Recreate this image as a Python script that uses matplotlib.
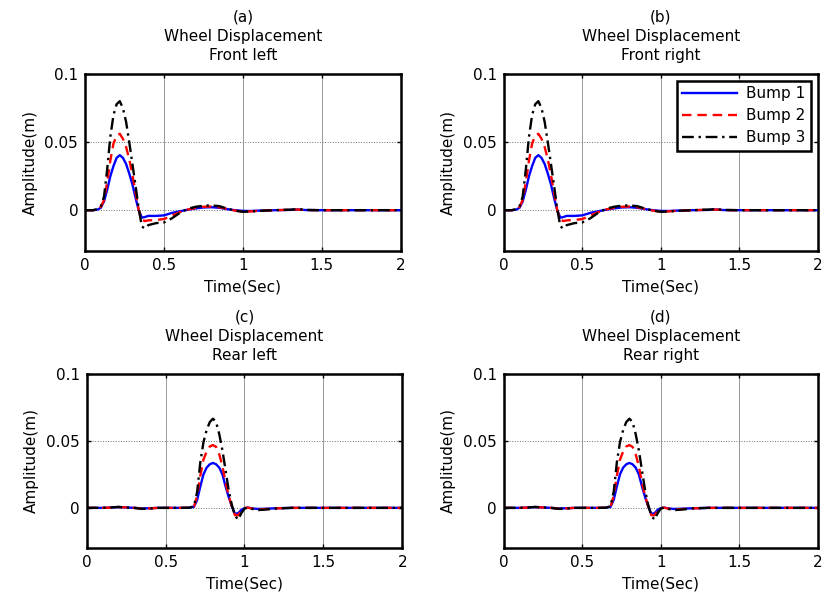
"""Wheel displacement response of the four wheels for three bump heights."""

import matplotlib

matplotlib.use("Agg")
import matplotlib.pyplot as plt

OUT_PATH = "out.png"

SERIES_NAMES = ["Bump 1", "Bump 2", "Bump 3"]
SERIES_COLORS = ["#0000FF", "#FF0000", "#000000"]

# Front wheels: time samples (s) and displacement (m) per bump
t_front = [0.00, 0.05, 0.08, 0.10, 0.12, 0.14, 0.16, 0.18, 0.20, 0.22,
           0.24, 0.26, 0.28, 0.30, 0.32, 0.34, 0.36, 0.38, 0.40, 0.45,
           0.50, 0.55, 0.60, 0.65, 0.70, 0.75, 0.80, 0.85, 0.90, 0.95,
           1.00, 1.05, 1.10, 1.20, 1.30, 1.35, 1.40, 1.50, 1.60, 1.80, 2.00]
front_bump1 = [0.0, 0.0, 0.0005, 0.0018, 0.0065, 0.0150, 0.0250, 0.0325, 0.0385, 0.0405,
               0.0385, 0.0340, 0.0270, 0.0190, 0.0090, 0.0000, -0.0055, -0.0050, -0.0042, -0.0042,
               -0.0038, -0.0020, -0.0008, 0.0003, 0.0013, 0.0020, 0.0022, 0.0018, 0.0008, 0.0000,
               -0.0005, -0.0006, -0.0003, 0.0000, 0.0002, 0.0005, 0.0001, 0.0, 0.0, 0.0, 0.0]
front_bump2 = [0.0, 0.0, 0.0006, 0.0025, 0.0075, 0.0205, 0.0365, 0.0490, 0.0550, 0.0562,
               0.0525, 0.0465, 0.0375, 0.0260, 0.0130, 0.0000, -0.0070, -0.0080, -0.0075, -0.0072,
               -0.0065, -0.0040, -0.0015, 0.0005, 0.0017, 0.0025, 0.0027, 0.0022, 0.0010, -0.0003,
               -0.0010, -0.0009, -0.0004, 0.0000, 0.0003, 0.0005, 0.0001, 0.0, 0.0, 0.0, 0.0]
front_bump3 = [0.0, 0.0, 0.0008, 0.0030, 0.0100, 0.0300, 0.0540, 0.0700, 0.0780, 0.0802,
               0.0750, 0.0650, 0.0500, 0.0340, 0.0180, 0.0010, -0.0120, -0.0135, -0.0110, -0.0095,
               -0.0090, -0.0060, -0.0020, 0.0010, 0.0025, 0.0033, 0.0035, 0.0030, 0.0012, -0.0003,
               -0.0012, -0.0010, -0.0005, 0.0000, 0.0004, 0.0008, 0.0002, 0.0, 0.0, 0.0, 0.0]

# Rear wheels: same bumps, reached later
t_rear = [0.00, 0.10, 0.15, 0.20, 0.25, 0.30, 0.35, 0.40, 0.45, 0.50,
          0.60, 0.65, 0.68, 0.70, 0.72, 0.74, 0.76, 0.78, 0.80, 0.82,
          0.84, 0.86, 0.88, 0.90, 0.92, 0.94, 0.96, 0.98, 1.00, 1.02,
          1.05, 1.08, 1.12, 1.16, 1.20, 1.30, 1.40, 1.60, 1.80, 2.00]
rear_bump1 = [0.0, 0.0, 0.0002, 0.0006, 0.0003, 0.0000, -0.0004, -0.0003, 0.0, 0.0,
              0.0, 0.0001, 0.0008, 0.0060, 0.0160, 0.0250, 0.0300, 0.0325, 0.0335, 0.0325,
              0.0300, 0.0250, 0.0160, 0.0080, 0.0010, -0.0045, -0.0040, -0.0015, -0.0002, 0.0002,
              -0.0004, -0.0008, -0.0007, -0.0005, -0.0003, 0.0, 0.0, 0.0, 0.0, 0.0]
rear_bump2 = [0.0, 0.0, 0.0002, 0.0006, 0.0003, 0.0000, -0.0005, -0.0004, 0.0, 0.0,
              0.0, 0.0001, 0.0010, 0.0090, 0.0240, 0.0360, 0.0420, 0.0458, 0.0468, 0.0455,
              0.0400, 0.0310, 0.0190, 0.0090, 0.0010, -0.0055, -0.0055, -0.0020, -0.0003, 0.0002,
              -0.0006, -0.0012, -0.0010, -0.0007, -0.0004, 0.0, 0.0, 0.0, 0.0, 0.0]
rear_bump3 = [0.0, 0.0, 0.0003, 0.0007, 0.0003, 0.0000, -0.0008, -0.0005, 0.0, 0.0,
              0.0, 0.0001, 0.0012, 0.0120, 0.0340, 0.0490, 0.0580, 0.0640, 0.0665, 0.0640,
              0.0550, 0.0430, 0.0280, 0.0130, 0.0020, -0.0060, -0.0088, -0.0040, -0.0005, 0.0001,
              -0.0008, -0.0017, -0.0014, -0.0010, -0.0005, 0.0, 0.0, 0.0, 0.0, 0.0]

panel_titles = [
    "(a)\nWheel Displacement\nFront left",
    "(b)\nWheel Displacement\nFront right",
    "(c)\nWheel Displacement\nRear left",
    "(d)\nWheel Displacement\nRear right",
]

x_ticks = [0, 0.5, 1, 1.5, 2]
x_tick_labels = ["0", "0.5", "1", "1.5", "2"]
y_ticks = [0, 0.05, 0.1]
y_tick_labels = ["0", "0.05", "0.1"]


def draw_panel(ax, t, curves, title, show_legend=False):
    styles = [
        dict(linestyle="-"),
        dict(linestyle=(0, (4, 2.5))),
        dict(linestyle=(0, (5, 2, 1, 2))),
    ]
    for name, color, values, style in zip(SERIES_NAMES, SERIES_COLORS, curves, styles):
        ax.plot(t, values, color=color, linewidth=1.7, label=name, **style)

    ax.set_xlim(0, 2)
    ax.set_ylim(-0.03, 0.1)
    ax.set_xticks(x_ticks)
    ax.set_xticklabels(x_tick_labels)
    ax.set_yticks(y_ticks)
    ax.set_yticklabels(y_tick_labels)
    ax.tick_params(direction="in", length=3, width=1, top=True, right=True,
                   labelsize=11, pad=5)
    ax.grid(axis="x", color="#9A9A9A", linestyle="-", linewidth=0.7)
    ax.grid(axis="y", color="#707070", linestyle=":", linewidth=0.7)
    ax.set_axisbelow(True)
    for spine in ax.spines.values():
        spine.set_linewidth(1.8)

    ax.set_title(title, fontsize=11, linespacing=1.35, pad=10)
    ax.set_xlabel("Time(Sec)", fontsize=11, labelpad=5)
    ax.set_ylabel("Amplitude(m)", fontsize=11, labelpad=5)

    if show_legend:
        leg = ax.legend(loc="upper right", fontsize=11, handlelength=3.6,
                        labelspacing=0.45, borderaxespad=0.45, fancybox=False,
                        framealpha=1, edgecolor="black", borderpad=0.35,
                        handletextpad=0.6)
        leg.get_frame().set_linewidth(1.8)


def main():
    plt.rcParams.update({"font.family": "DejaVu Sans"})
    fig = plt.figure(figsize=(8.26, 5.99), dpi=100)

    # axes boxes in figure fractions
    boxes = [
        [0.103, 0.581, 0.382, 0.295],
        [0.610, 0.581, 0.380, 0.295],
        [0.105, 0.085, 0.382, 0.291],
        [0.610, 0.085, 0.380, 0.291],
    ]
    front = [front_bump1, front_bump2, front_bump3]
    rear = [rear_bump1, rear_bump2, rear_bump3]
    panels = [(t_front, front), (t_front, front), (t_rear, rear), (t_rear, rear)]

    for idx, (box, (t, curves)) in enumerate(zip(boxes, panels)):
        ax = fig.add_axes(box)
        draw_panel(ax, t, curves, panel_titles[idx], show_legend=(idx == 1))

    fig.savefig(OUT_PATH, dpi=100)


if __name__ == "__main__":
    main()
